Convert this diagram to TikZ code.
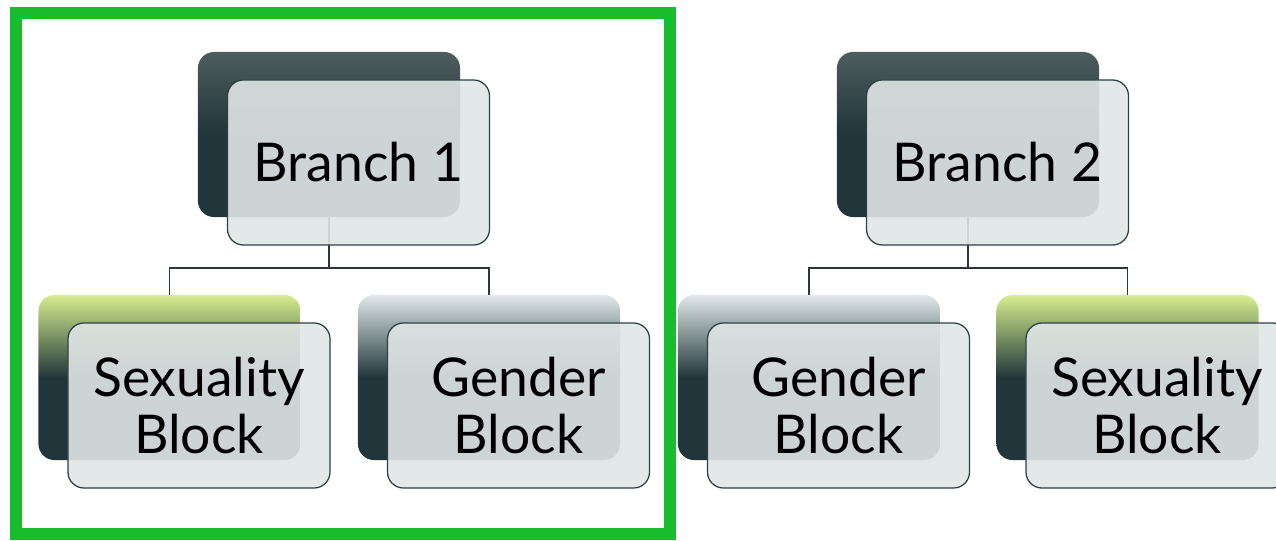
\documentclass[tikz,border=0pt]{standalone}
\usepackage{fontspec}
\setmainfont{Lato}
\usetikzlibrary{positioning}

\definecolor{framegreen}{RGB}{24,188,46}
\definecolor{boxdark}{RGB}{32,54,58}
\definecolor{boxedge}{RGB}{46,64,68}
\definecolor{boxface}{RGB}{224,230,230}
\definecolor{topbranch}{RGB}{78,92,94}
\definecolor{topsex}{RGB}{214,238,142}
\definecolor{topgender}{RGB}{224,232,234}
\definecolor{linkgray}{RGB}{40,56,60}

\begin{document}
\begin{tikzpicture}[x=0.025cm,y=-0.025cm,
    backbox/.style={rounded corners=0.4cm,minimum width=6.55cm,minimum height=4.125cm,inner sep=0pt,
      top color=#1,bottom color=boxdark,middle color=boxdark},
    frontbox/.style={rounded corners=0.4cm,minimum width=6.55cm,minimum height=4.125cm,inner sep=0pt,
      draw=boxedge,line width=0.9pt,fill=boxface,fill opacity=0.9,text opacity=1,
      align=center,font=\fontsize{38}{40.5}\selectfont},
    link/.style={draw=linkgray,line width=0.9pt}]
     \useasboundingbox (0,0) rectangle (1276,540);

     % hintere Kaesten
     \foreach \nm/\x/\y/\col in {b1back/329/134.5/topbranch, b2back/968/134.5/topbranch,
       s1back/169.5/377.5/topsex, g1back/489/377.5/topgender,
       g2back/809/377.5/topgender, s2back/1127.5/377.5/topsex}
     {
       \node[backbox=\col] (\nm) at (\x,\y) {};
     }

     % Verbindungen
     \coordinate (j1) at (329,268);
     \coordinate (j2) at (968,268);
     \draw[link] (b1back.south) -- (j1) -| (s1back.north);
     \draw[link] (j1) -| (g1back.north);
     \draw[link] (b2back.south) -- (j2) -| (g2back.north);
     \draw[link] (j2) -| (s2back.north);

     % vordere Kaesten
     \foreach \nm/\txt in {b1/{Branch 1}, b2/{Branch 2}, s1/{Sexuality\\Block},
       g1/{Gender\\Block}, g2/{Gender\\Block}, s2/{Sexuality\\Block}}
     {
       \node[frontbox] (\nm) at ([shift={(29.5,28)}]\nm back.center) {\txt};
     }

     % Rahmen
     \draw[framegreen,line width=0.3cm] (16,13) rectangle (670,534);
\end{tikzpicture}
\end{document}
